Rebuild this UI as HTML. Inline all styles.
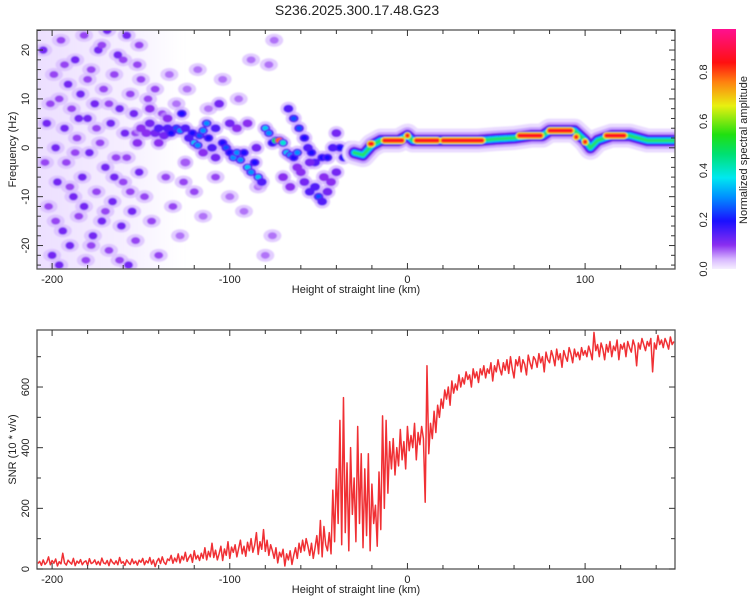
<!DOCTYPE html>
<html><head><meta charset="utf-8"><style>
body{margin:0;background:#fff;}
svg{display:block;font-family:"Liberation Sans",sans-serif;}
</style></head><body>
<svg id="svg" width="750" height="600" viewBox="0 0 750 600">
<defs>
<filter id="bl" x="-5%" y="-5%" width="110%" height="110%"><feGaussianBlur stdDeviation="0.9"/></filter>
<clipPath id="cp1"><rect x="37" y="30" width="638" height="239"/></clipPath>
<clipPath id="cp2"><rect x="37" y="330" width="638" height="239"/></clipPath>
<linearGradient id="cbg" x1="0" y1="1" x2="0" y2="0">
<stop offset="0" stop-color="#f6efff"/><stop offset="0.04" stop-color="#d8b8ff"/><stop offset="0.1" stop-color="#8a2ef0"/>
<stop offset="0.2" stop-color="#1a10ff"/><stop offset="0.3" stop-color="#0090ff"/><stop offset="0.38" stop-color="#00e8f0"/>
<stop offset="0.48" stop-color="#00e070"/><stop offset="0.56" stop-color="#20e010"/><stop offset="0.68" stop-color="#e8f010"/>
<stop offset="0.78" stop-color="#ff8010"/><stop offset="0.86" stop-color="#ff1010"/><stop offset="1" stop-color="#ff1090"/>
</linearGradient>
<linearGradient id="wash" x1="0" y1="0" x2="1" y2="0">
<stop offset="0" stop-color="#dcc4ff" stop-opacity="0.55"/><stop offset="0.6" stop-color="#e4d0ff" stop-opacity="0.35"/><stop offset="1" stop-color="#e8d8ff" stop-opacity="0"/>
</linearGradient>
</defs>
<text x="357" y="15" font-size="14" text-anchor="middle" fill="#222">S236.2025.300.17.48.G23</text>
<g id="top"></g>
<g id="bot"></g>
<g id="cb"></g>
</svg>
<script>
// ---------- data ----------
const kmStart = -208, kmStep = 1;
const snrValues = [
18,25,12,30,15,22,40,14,28,19, 33,10,24,17,52,20,13,29,22,16, 35,11,26,19,31,14,23,27,12,34,
18,21,30,15,25,13,36,20,17,28, 11,32,22,16,27,14,38,19,24,12, 30,21,15,33,18,26,13,29,22,35,
14,27,20,38,16,30,8,25,35,18, 40,22,15,33,28,45,19,36,24,50, 20,42,30,55,25,38,48,22,60,33,
45,28,52,35,70,30,58,40,85,38, 62,30,50,75,28,66,45,90,35,72, 55,80,40,68,95,50,75,42,88,60,
100,55,78,120,48,90,65,130,58,95, 45,80,60,35,70,20,55,40,65,10, 50,30,60,15,45,70,35,85,55,95,
60,100,75,45,85,35,70,110,50,160, 40,140,80,60,120,50,260,90,330,150, 490,80,565,120,350,60,400,180,300,90,
470,150,380,70,330,110,380,60,280,150, 210,75,320,130,505,200,490,250,420,330, 430,310,400,340,460,360,420,330,470,390,
440,400,480,360,450,410,470,430,220,670, 380,480,430,520,450,540,500,560,530,590, 560,600,540,620,580,610,590,640,600,630,
610,650,625,640,600,660,630,650,615,660, 640,670,630,660,645,680,620,670,650,690, 660,640,680,655,690,645,700,660,630,690,
670,700,650,690,675,640,705,680,660,700, 690,665,710,680,700,650,715,690,680,720, 700,670,725,690,710,665,720,700,685,730,
710,680,725,700,715,690,730,705,720,700, 735,715,690,780,720,740,700,745,725,690, 740,715,750,700,735,720,755,690,740,725,
745,700,750,730,715,755,735,670,745,725, 760,740,720,750,735,760,650,745,725,770, 740,755,730,760,745,725,765,740,750];

const bandKm = [-30,-25,-20,-15,-10,-5,0,3,10,20,30,40,50,60,70,76,80,90,94,97,100,103,107,115,125,135,150];
const bandHz = [-1,-1.5,0.5,1.5,1.5,1.5,2.5,1.5,1.5,1.5,1.5,1.5,1.8,2,2.5,2.5,3.5,3.5,3.5,2.5,1.5,0,1.5,2.5,2.5,1.5,1.5];
const hotStart = [-13,5,20,63,80,112,-21,0,95,100];
const hotEnd   = [-3,17,42,75,92,122,-20,0,95,100];
const hotHz    = [1.5,1.5,1.5,2.5,3.5,2.5,0.8,2.5,2.2,1.2];

const ridgeKm = [-150,-147,-145,-142,-140,-137,-135,-133,-130,-128,-127,-125,-123,-121,-120,-118,-117,-115,-113,-112,-110,-108,-106,-104,-102,-100,-98,-96,-94,-92,-90,-88,-86,-84,-82,-80,-78,-76,-74,-72,-70,-68,-66,-64,-62,
-67,-64,-61,-58,-56,-54,-52,-48,-45,-42,-40,-38,-36,-34,-32,
-60,-58,-55,-52,-50,-48,-45,-43,-47,-40,-55,-62,-66,-70,-100,-96,-90,-85,-108,-115,-125,-135,-140,-145,-152];
const ridgeHz = [4,3,5,3,4,2.5,4,3,4,3.5,7,4,2,3,1,0.5,2.5,3.5,5,2,0,4,9,1,0,-1,-2,-1,-2.5,-1,-4,-5,-3,-6,-7,4,3,1,1.5,1.5,1,-1,-1.5,-2,-1,
8,6,4,2,0,-1,-3,-2,-2,0,3,0,-2,-1,0,
-5,-7,-9,-8,-10,-11,-9,-7,-6,-5,-3,-4,-8,-6,5,4,5,0,-2,-1,-3,6,1,8,1];
const ridgeAmp = [.1,.1,.12,.12,.15,.12,.15,.2,.25,.3,.2,.15,.15,.2,.35,.3,.25,.3,.3,.2,.15,.15,.12,.2,.25,.2,.3,.3,.3,.2,.35,.3,.2,.35,.15,.35,.3,.2,.5,.8,.4,.35,.3,.2,.3,
.15,.25,.25,.2,.15,.2,.15,.2,.2,.15,.12,.2,.2,.35,.3,
.1,.12,.15,.15,.25,.15,.12,.1,.1,.12,.12,.1,.1,.1,.12,.1,.1,.12,.12,.1,.08,.1,.1,.1,.1];

const speckKm = [-205,-203,-202,-200,-199,-198,-197,-196,-195,-194,-193,-192,-191,-190,-189,-188,-187,-186,-185,-184,-183,-182,-181,-180,-179,-178,-177,-176,-175,-174,-173,-172,-171,-170,-169,-168,-167,-166,-165,-164,-163,-162,-161,-160,-159,-158,-157,-156,-155,-154,-153,-152,-151,-150,-148,-146,-144,-142,-140,-138,-136,-134,-132,-130,-128,-126,-124,-120,-118,-115,-112,-108,-104,-100,-95,-92,-88,-84,-80,-78,-76,-75,
-204,-201,-198,-196,-193,-190,-187,-185,-182,-180,-178,-175,-172,-170,-168,-165,-162,-160,-158,-156,-153,-151];
const speckHz = [20,5,-12,-22,15,0,-7,10,22,-17,4,-3,13,-20,8,-10,18,2,-14,11,-6,23,-23,6,-1,16,-18,9,-9,20,1,-15,12,-4,24,-21,5,-11,15,-2,19,8,-16,-7,3,23,-24,11,-13,7,-19,17,-5,14,-10,10,-15,12,-22,7,-6,15,-12,9,-18,-7,12,-9,16,-14,8,-6,14,-10,10,-13,18,-8,-22,17,-18,22,
-3,9,-15,-24,17,-8,-1,6,-12,14,-20,4,21,-13,9,-6,-23,18,-2,-9,3,21];
const speckAmp = [.1,.1,.05,.1,.05,.1,.1,.05,.05,.1,.1,.05,.1,.1,.05,.1,.1,.05,.05,.1,.1,.05,.05,.1,.1,.05,.1,.1,.05,.1,.05,.1,.05,.1,.1,.05,.1,.1,.05,.05,.1,.1,.1,.05,.1,.1,.1,.05,.1,.1,.05,.05,.1,.05,.05,.05,.05,.05,.05,.05,.05,.03,.05,.03,.03,.05,.03,.05,.03,.03,.03,.05,.03,.03,.03,.03,.03,.03,.03,.03,.03,.03,
.05,.05,.05,.1,.05,.05,.05,.1,.1,.05,.05,.05,.05,.05,.05,.1,.05,.05,.05,.05,.05,.05];

const xTicks = [-200,-100,0,100];
const freqTicks = [-20,-10,0,10,20];
const snrTicks = [0,200,400,600];
const cbTicks = [0,0.2,0.4,0.6,0.8];

// ---------- axes ----------
const L=37,R=675,T1=30,B1=269,T2=330,B2=569;
const xMin=-208.5,xMax=150.6, fMin=-24.8,fMax=24.1, sMin=0,sMax=788;
const X=k=>L+(k-xMin)/(xMax-xMin)*(R-L);
const YF=h=>B1-(h-fMin)/(fMax-fMin)*(B1-T1);
const YS=s=>B2-(s-sMin)/(sMax-sMin)*(B2-T2);
const NS='http://www.w3.org/2000/svg';
function mk(tag,attrs,parent){const e=document.createElementNS(NS,tag);for(const k in attrs)e.setAttribute(k,attrs[k]);parent.appendChild(e);return e;}
function col(a){
  const st=[[0,[246,239,255]],[0.04,[216,184,255]],[0.1,[138,46,240]],[0.2,[26,16,255]],[0.3,[0,144,255]],[0.38,[0,232,240]],[0.48,[0,224,112]],[0.56,[32,224,16]],[0.68,[232,240,16]],[0.78,[255,128,16]],[0.86,[255,16,16]],[1,[255,16,144]]];
  for(let i=1;i<st.length;i++){if(a<=st[i][0]){const t=(a-st[i-1][0])/(st[i][0]-st[i-1][0]);const c=st[i-1][1].map((v,j)=>Math.round(v+(st[i][1][j]-v)*t));return `rgb(${c})`;}}
  return 'rgb(255,16,144)';
}
const topG=document.getElementById('top'), botG=document.getElementById('bot'), cbG=document.getElementById('cb');

// spectrogram
const sg=mk('g',{'clip-path':'url(#cp1)'},topG);
const sgb=mk('g',{filter:'url(#bl)'},sg);
const wash=mk('rect',{x:X(-208.5),y:T1,width:X(-125)-X(-208.5),height:B1-T1,fill:'url(#wash)'},sgb);


speckKm.forEach((k,i)=>{
  const h=mk('ellipse',{cx:X(k),cy:YF(speckHz[i]),rx:9,ry:6.5,fill:'#d8bcff',opacity:0.75},sgb);
  
  
});
speckKm.forEach((k,i)=>{
  const a=speckAmp[i];
  const e=mk('ellipse',{cx:X(k),cy:YF(speckHz[i]),rx:a>=0.1?4.5:4.5,ry:a>=0.1?3.8:3.5,fill:col(a>=0.1?0.12:a+0.04)},sgb);
  
  
});
ridgeKm.forEach((k,i)=>{
  const h=mk('ellipse',{cx:X(k),cy:YF(ridgeHz[i]),rx:8,ry:7,fill:'#c9a4ff',opacity:0.6},sgb);
  
  
});
ridgeKm.forEach((k,i)=>{
  const a=ridgeAmp[i];
  const e=mk('ellipse',{cx:X(k),cy:YF(ridgeHz[i]),rx:5,ry:4,fill:col(Math.min(a,0.15))},sgb);
  
  
  if(a>0.18){const c=mk('ellipse',{cx:X(k),cy:YF(ridgeHz[i]),rx:a>0.4?4:3,ry:a>0.4?3:2.5,fill:col(a)},sgb);
    
    }
});
const pts=bandKm.map((k,i)=>X(k)+','+YF(bandHz[i])).join(' ');
[['#eadcff',24],['#c9a4ff',17],['#7a1fe8',12],['#2020ff',9],['#00c8ff',6],['#20e070',3.5]].forEach(([c,w])=>{
  const p=mk('polyline',{points:pts,fill:'none',stroke:c,'stroke-width':w,'stroke-linejoin':'round','stroke-linecap':'round'},sgb);
  
  
});
hotStart.forEach((s,i)=>{
  [['#e8f010',7],['#ff8010',5],['#ff1020',3.5]].forEach(([c,w])=>{
    const l=mk('line',{x1:X(s),x2:X(hotEnd[i]),y1:YF(hotHz[i]),y2:YF(hotHz[i]),stroke:c,'stroke-width':w,'stroke-linecap':'round'},sgb);
    
    
  });
});

// SNR line
const lg=mk('g',{'clip-path':'url(#cp2)'},botG);
const sp=snrValues.map((v,i)=>X(kmStart+i*kmStep)+','+YS(v)).join(' ');
const snrLine=mk('polyline',{points:sp,fill:'none',stroke:'#f03034','stroke-width':1.5,'stroke-linejoin':'round'},lg);



// frames, ticks
function frame(g,T,B,yT,Yf,yMinor,yMin,yMax,yLabel,name){
  const f=mk('rect',{x:L,y:T,width:R-L,height:B-T,fill:'none',stroke:'#555','stroke-width':1.3},g);
  
  
  for(let k=-200;k<=140;k+=20){const x=X(k),len=xTicks.includes(k)?6:4;
    mk('line',{x1:x,x2:x,y1:B,y2:B-len,stroke:'#333'},g);mk('line',{x1:x,x2:x,y1:T,y2:T+len,stroke:'#333'},g);}
  xTicks.forEach(k=>{const t=mk('text',{x:X(k),y:B+14,'font-size':11,'text-anchor':'middle',fill:'#222'},g);t.textContent=k;
    
    });
  for(let v=Math.ceil(yMin/yMinor)*yMinor;v<=yMax;v+=yMinor){const y=Yf(v),len=yT.includes(v)?6:4;
    mk('line',{x1:L,x2:L+len,y1:y,y2:y,stroke:'#333'},g);mk('line',{x1:R,x2:R-len,y1:y,y2:y,stroke:'#333'},g);}
  yT.forEach(v=>{const y=Yf(v);const t=mk('text',{x:0,y:0,transform:`translate(29,${y}) rotate(-90)`,'font-size':11,'text-anchor':'middle',fill:'#222'},g);t.textContent=v;
    
    });
  const xl=mk('text',{x:356,y:B+24,'font-size':11,'text-anchor':'middle',fill:'#222'},g);xl.textContent='Height of straight line (km)';
  
  
  const yl=mk('text',{x:0,y:0,transform:`translate(16,${(T+B)/2}) rotate(-90)`,'font-size':11,'text-anchor':'middle',fill:'#222'},g);yl.textContent=yLabel;
  
  
}
frame(topG,T1,B1,freqTicks,YF,2,fMin,fMax,'Frequency (Hz)','spectrogram');
frame(botG,T2,B2,snrTicks,YS,100,sMin,sMax,'SNR (10 * v/v)','snr');

// colorbar
const cbMax=0.975, cbT=29, cbB=269;
const cbr=mk('rect',{x:712,y:cbT,width:24,height:cbB-cbT,fill:'url(#cbg)'},cbG);


cbTicks.forEach(v=>{const y=cbB-v/cbMax*(cbB-cbT);
  const t=mk('text',{x:0,y:0,transform:`translate(707,${y}) rotate(-90)`,'font-size':11,'text-anchor':'middle',fill:'#222'},cbG);t.textContent=v.toFixed(1);
  
  });
const ct=mk('text',{x:0,y:0,transform:'translate(747,150) rotate(-90)','font-size':11,'text-anchor':'middle',fill:'#222'},cbG);ct.textContent='Normalized spectral amplitude';


</script>
</body></html>
